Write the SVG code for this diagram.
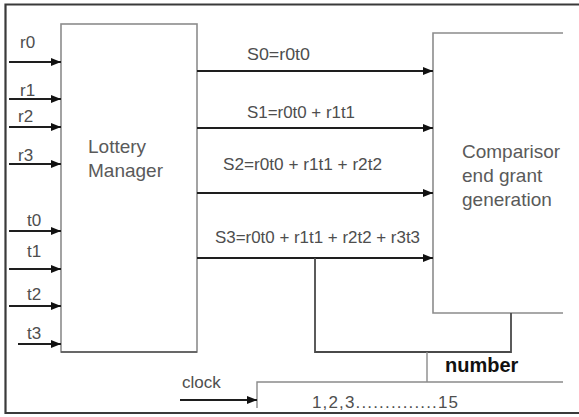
<svg xmlns="http://www.w3.org/2000/svg" width="579" height="417" viewBox="0 0 579 417">
  <defs>
    <marker id="arrow" markerUnits="userSpaceOnUse" markerWidth="11" markerHeight="9" refX="10" refY="4" orient="auto">
      <path d="M0,0 L10,4 L0,8 z" fill="#111"/>
    </marker>
    <style>
      .frame { fill: none; stroke: #3a3a3a; stroke-width: 2.2; }
      .box { fill: #fff; stroke: #8c8c8c; stroke-width: 1.6; }
      .wire { fill: none; stroke: #1e1e1e; stroke-width: 1.8; marker-end: url(#arrow); }
      .link { fill: none; stroke: #4a4a4a; stroke-width: 1.8; }
      .bus { fill: none; stroke: #8a8a8a; stroke-width: 1.4; }
      .lbl { font-family: "Liberation Sans", Arial, sans-serif; fill: #4e4e4e; font-size: 17px; }
      .big { font-family: "Liberation Sans", Arial, sans-serif; fill: #5a5a5a; font-size: 19px; }
      .bold { font-family: "Liberation Sans", Arial, sans-serif; fill: #111; font-size: 20px; font-weight: bold; }
    </style>
  </defs>

  <rect width="579" height="417" fill="#fff"/>

  <!-- outer frame (open on the right) -->
  <path class="frame" d="M579,4.5 H5.5 V413 H579"/>

  <!-- Lottery Manager block -->
  <g id="lottery-manager">
    <rect class="box" x="61" y="24" width="136" height="328"/>
    <line x1="61" y1="352" x2="197" y2="352" stroke="#555" stroke-width="1.6"/>
    <text class="big" x="88" y="153">Lottery</text>
    <text class="big" x="88" y="177">Manager</text>
  </g>

  <!-- Comparison block (open on the right) -->
  <g id="comparison">
    <rect x="433" y="33" width="130" height="280" fill="#fff"/>
    <path class="box" d="M563,33 H433 V313 H563"/>
    <text class="big" x="462" y="158">Comparisor</text>
    <text class="big" x="462" y="182">end grant</text>
    <text class="big" x="462" y="206">generation</text>
  </g>

  <!-- Counter bus -->
  <g id="counter">
    <path class="bus" d="M257,408 V382 H563"/>
    <text class="bold" x="445" y="372">number</text>
    <text class="lbl" x="312" y="408" textLength="146" lengthAdjust="spacing">1,2,3..............15</text>
  </g>

  <!-- inputs labels -->
  <g id="input-labels">
    <text class="lbl" x="20" y="48">r0</text>
    <text class="lbl" x="20" y="96">r1</text>
    <text class="lbl" x="18" y="122">r2</text>
    <text class="lbl" x="18" y="161">r3</text>
    <text class="lbl" x="27" y="226">t0</text>
    <text class="lbl" x="27" y="257">t1</text>
    <text class="lbl" x="27" y="300">t2</text>
    <text class="lbl" x="27" y="339">t3</text>
    <text class="lbl" x="182" y="388" font-size="18">clock</text>
  </g>

  <!-- sum labels -->
  <g id="sum-labels">
    <text class="lbl" x="247" y="60" textLength="63" lengthAdjust="spacingAndGlyphs">S0=r0t0</text>
    <text class="lbl" x="247" y="118" textLength="108" lengthAdjust="spacingAndGlyphs">S1=r0t0 + r1t1</text>
    <text class="lbl" x="223" y="170" textLength="159" lengthAdjust="spacingAndGlyphs">S2=r0t0 + r1t1 + r2t2</text>
    <text class="lbl" x="215" y="243" textLength="205" lengthAdjust="spacingAndGlyphs">S3=r0t0 + r1t1 + r2t2 + r3t3</text>
  </g>

  <!-- connectors -->
  <g id="connectors">
    <line class="wire" x1="9" y1="62" x2="61" y2="62"/>
    <line class="wire" x1="9" y1="99" x2="61" y2="99"/>
    <line class="wire" x1="9" y1="127" x2="61" y2="127"/>
    <line class="wire" x1="9" y1="164" x2="61" y2="164"/>
    <line class="wire" x1="9" y1="231" x2="61" y2="231"/>
    <line class="wire" x1="9" y1="269" x2="61" y2="269"/>
    <line class="wire" x1="9" y1="306" x2="61" y2="306"/>
    <line class="wire" x1="18" y1="344" x2="61" y2="344"/>

    <line class="wire" x1="197" y1="71" x2="433" y2="71"/>
    <line class="wire" x1="197" y1="128" x2="433" y2="128"/>
    <line class="wire" x1="197" y1="193" x2="433" y2="193"/>
    <line class="wire" x1="197" y1="258" x2="433" y2="258"/>

    <path class="link" d="M315,258 V352 H511 V313"/>
    <line class="bus" x1="427" y1="352" x2="427" y2="382"/>

    <line class="wire" x1="180" y1="400" x2="257" y2="400"/>
  </g>
</svg>
